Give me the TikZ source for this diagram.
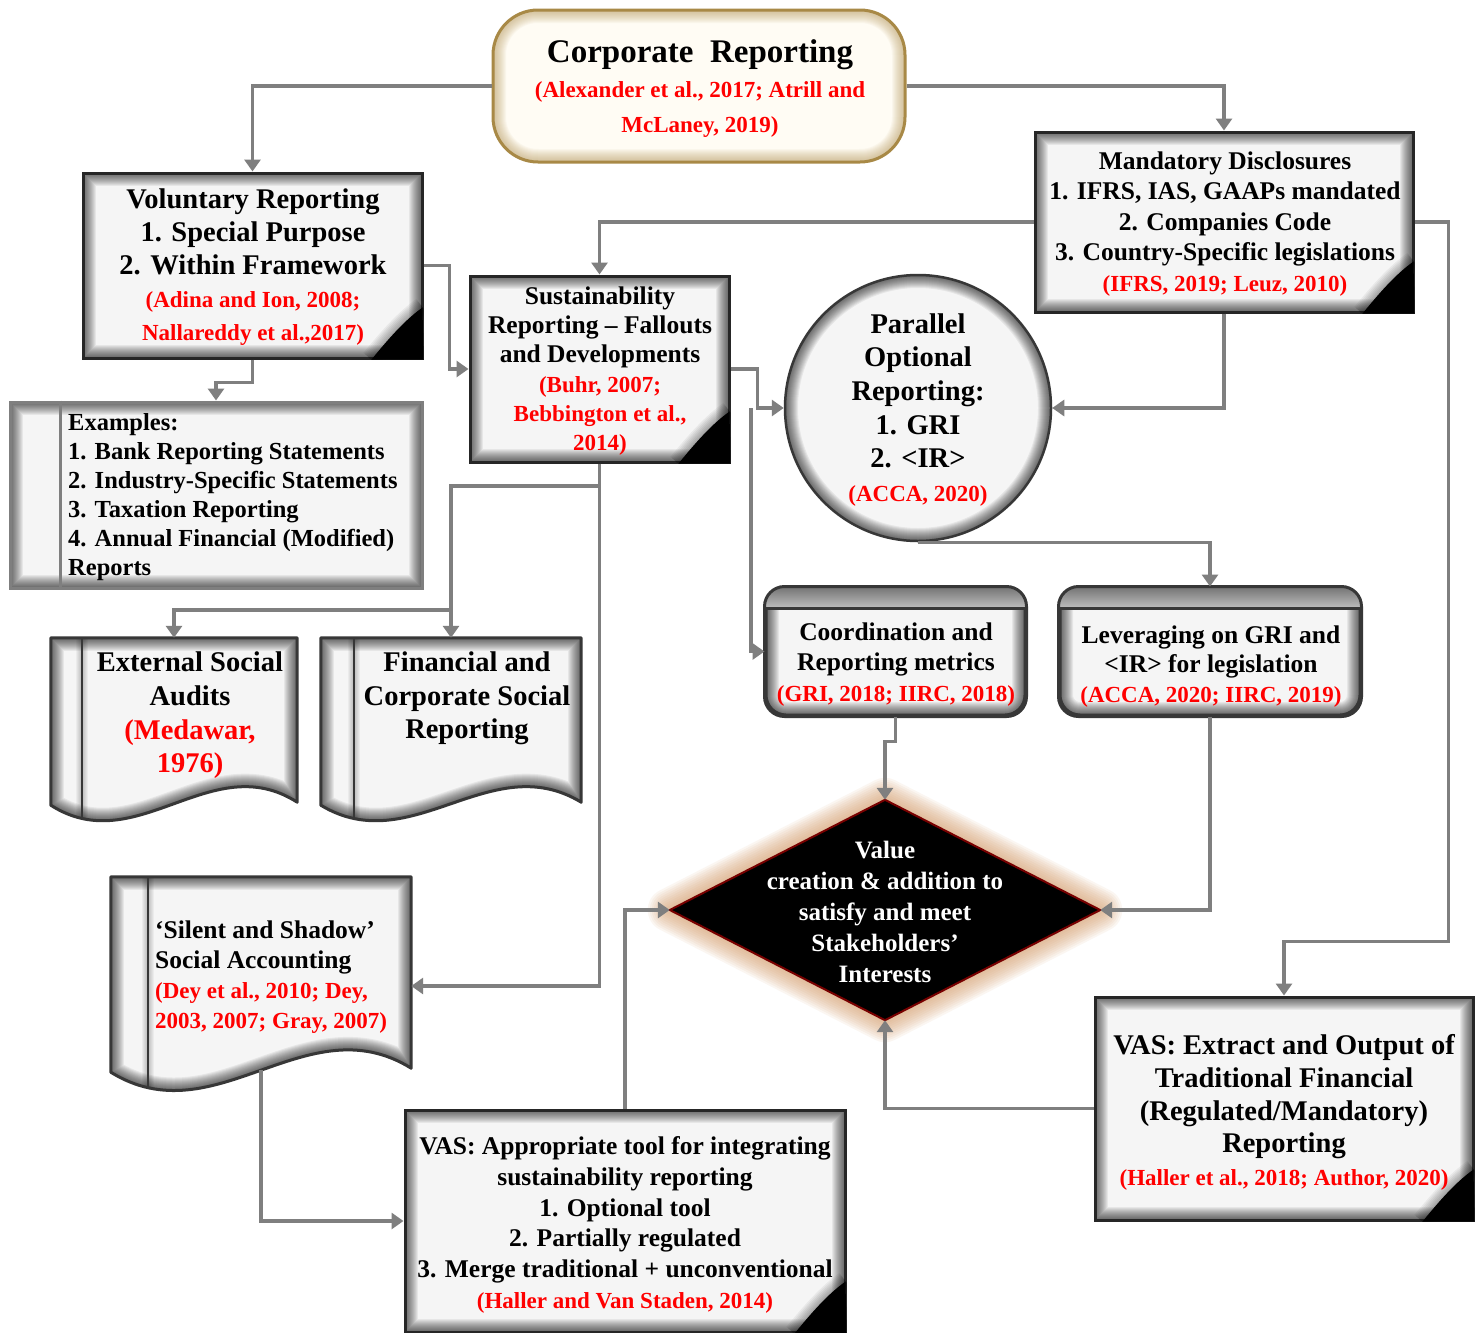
\documentclass[tikz,border=0pt]{standalone}
\usepackage{fontspec}
\setmainfont{Liberation Serif}
\usetikzlibrary{arrows.meta,shapes.geometric,calc}

\definecolor{linegray}{RGB}{127,127,127}
\definecolor{boxfill}{RGB}{245,245,245}
\definecolor{cream}{RGB}{255,252,244}
\definecolor{goldline}{RGB}{168,137,70}
\definecolor{beige}{RGB}{185,155,95}
\definecolor{glowtan}{RGB}{215,160,110}
\definecolor{darkred}{RGB}{120,0,0}
\definecolor{redtxt}{RGB}{255,0,0}
\definecolor{bordergray}{RGB}{55,55,55}

% red citation lines
\newcommand\rd[1]{{\color{redtxt}\fontsize{23}{23}\selectfont #1}}
% stroke widths for the soft inner shadow of the boxes (each stroke is faint, they stack)
\newcommand\glowlist{2,4,...,26}
\newcommand\glowop{0.06}

% outline of a wavy-bottom document: name, control dx, rise right, rise left, amplitude
\newcommand\docpathof[5]{(#1.north west) -- (#1.north east) -- ([yshift=#3pt]#1.south east)
  .. controls ([xshift=-#2pt,yshift=#3pt+#5pt]#1.south east) and ([xshift=#2pt,yshift=#4pt-#5pt]#1.south west)
  .. ([yshift=#4pt]#1.south west) -- cycle}

\newcommand\docshape[6]{%
  \fill[boxfill] \docpathof{#1}{#2}{#3}{#4}{#5};
  \begin{scope}
    \clip \docpathof{#1}{#2}{#3}{#4}{#5};
    \foreach \w in \glowlist {\draw[line width=\w pt, black, opacity=\glowop] \docpathof{#1}{#2}{#3}{#4}{#5};}
    \foreach \w in {2,4,...,12}{\draw[line width=\w pt, black, opacity=0.04] ([xshift=#6pt]#1.north west) -- ([xshift=#6pt,yshift=-40pt]#1.south west);}
    \draw[line width=2.5pt, bordergray] ([xshift=#6pt]#1.north west) -- ([xshift=#6pt,yshift=-40pt]#1.south west);
  \end{scope}
  \draw[line width=3pt, bordergray, line join=round] \docpathof{#1}{#2}{#3}{#4}{#5};
}

% curled corner at the lower right of a box
\newcommand\pagecurl[1]{%
  \begin{scope}
    \clip (#1.south west) rectangle (#1.north east);
    \foreach \w in {3,6,...,21}{
      \draw[line width=\w pt, black, opacity=0.05] ([xshift=-52pt]#1.south east)
        .. controls ([xshift=-34pt,yshift=22pt]#1.south east) and ([xshift=-18pt,yshift=40pt]#1.south east)
        .. ([xshift=-1pt,yshift=52pt]#1.south east);}
    \fill[black] ([xshift=-52pt]#1.south east)
        .. controls ([xshift=-34pt,yshift=22pt]#1.south east) and ([xshift=-18pt,yshift=40pt]#1.south east)
        .. ([xshift=-1pt,yshift=52pt]#1.south east) -- (#1.south east) -- cycle;
  \end{scope}
}

\tikzset{
  rectglow/.style={path picture={\foreach \w in \glowlist {\draw[line width=\w pt,#1,opacity=\glowop] (path picture bounding box.south west) rectangle (path picture bounding box.north east);}}},
  roundglow/.style 2 args={path picture={\foreach \w in \glowlist {\draw[line width=\w pt,#1,opacity=\glowop,rounded corners=#2] (path picture bounding box.south west) rectangle (path picture bounding box.north east);}}},
  circglow/.style={path picture={\foreach \w in \glowlist {\draw[line width=\w pt,#1,opacity=\glowop] (path picture bounding box.center) circle[radius=133pt];}}},
  sqbox/.style={rectangle, draw=black!85, line width=3pt, fill=boxfill, inner sep=0pt, rectglow=black},
  sqgray/.style={rectangle, draw=linegray, line width=3pt, fill=boxfill, inner sep=0pt, rectglow=black},
  rbox/.style={rectangle, rounded corners=20pt, draw=bordergray, line width=3pt, fill=boxfill, inner sep=0pt, roundglow={black}{20pt}},
  corpbox/.style={rectangle, rounded corners=45pt, draw=goldline, line width=3pt, fill=cream, inner sep=0pt, roundglow={beige}{45pt}},
  cbox/.style={circle, draw=bordergray, line width=2.5pt, fill=boxfill, inner sep=0pt, minimum size=266pt, circglow=black},
  geom/.style={rectangle, inner sep=0pt},
  txt/.style={inner sep=0pt, align=center, yshift=-2pt},
  conn/.style={draw=linegray, line width=3.2pt, -{Triangle[width=16pt,length=12pt]}},
}

\begin{document}
\begin{tikzpicture}[x=1pt,y=-1pt]
\fill[white] (0,0) rectangle (1483,1333);
\useasboundingbox (0,0) rectangle (1483,1333);

% ---- boxes ----
\node[corpbox, minimum width=412pt, minimum height=152pt] (corp) at (699,86) {};
\node[sqbox, minimum width=339pt, minimum height=185pt] (vol) at (252.5,265.5) {};
\pagecurl{vol}
\node[sqbox, minimum width=378pt, minimum height=180pt] (mand) at (1224,222) {};
\pagecurl{mand}
\node[sqbox, minimum width=259pt, minimum height=186pt] (sust) at (599.5,369) {};
\pagecurl{sust}
\node[sqgray, minimum width=412pt, minimum height=186pt] (ex) at (216,495) {};
\draw[linegray, line width=2.5pt] ([xshift=52pt]ex.north west) -- ([xshift=52pt]ex.south west);
\node[cbox] (circ) at (918,408) {};

% rounded boxes with a header strip
\foreach \n/\cx/\w in {coord/895.5/259, lev/1210/300}{
  \node[rbox, minimum width=\w pt, minimum height=127pt] (\n) at (\cx,651.5) {};
  \begin{scope}
    \clip[rounded corners=20pt] (\n.south west) rectangle (\n.north east);
    \shade[top color=black!55, bottom color=black!25] (\n.north west) rectangle ([yshift=-22pt]\n.north east);
  \end{scope}
  \draw[bordergray, line width=2.5pt] ([yshift=-22pt]\n.north west) -- ([yshift=-22pt]\n.north east);
  \draw[bordergray, line width=3pt, rounded corners=20pt] (\n.south west) rectangle (\n.north east);
}

% documents with wavy bottoms
\node[geom, minimum width=246pt, minimum height=187pt] (ext) at (174,731.5) {};
\docshape{ext}{86}{23}{20}{55}{31}
\node[geom, minimum width=260pt, minimum height=187pt] (fin) at (451,731.5) {};
\docshape{fin}{91}{23}{20}{55}{33}
\node[geom, minimum width=300pt, minimum height=218pt] (sil) at (261,986) {};
\docshape{sil}{105}{27}{23}{65}{37}

% decision diamond with a warm glow
\node[diamond, minimum width=430pt, minimum height=220pt, inner sep=0pt] (dia) at (885,910) {};
\foreach \w in {4,8,...,44}{
  \draw[glowtan, line width=\w pt, opacity=0.09, line join=round] (dia.north) -- (dia.east) -- (dia.south) -- (dia.west) -- cycle;}
\filldraw[fill=black, draw=darkred, line width=2pt] (dia.north) -- (dia.east) -- (dia.south) -- (dia.west) -- cycle;

\node[sqbox, minimum width=440pt, minimum height=222pt] (vasb) at (625,1221) {};
\pagecurl{vasb}
\node[sqbox, minimum width=378pt, minimum height=223pt] (vasr) at (1284,1108.5) {};
\pagecurl{vasr}

% ---- texts ----
\node[txt, font=\fontsize{33}{35}\selectfont\bfseries] (corpT) at (700,87)
  {Corporate\hspace{0.5em}Reporting\\ \rd{(Alexander et al., 2017; Atrill and}\\ \rd{McLaney, 2019)}};
\node[txt, font=\fontsize{28.5}{33}\selectfont\bfseries] (volT) at (253,265.5)
  {Voluntary Reporting\\ 1. Special Purpose\\ 2. Within Framework\\ \rd{(Adina and Ion, 2008;}\\ \rd{Nallareddy et al.,2017)}};
\node[txt, font=\fontsize{25.5}{30.5}\selectfont\bfseries] (mandT) at (1225,222)
  {Mandatory Disclosures\\ 1. IFRS, IAS, GAAPs mandated\\ 2. Companies Code\\ 3. Country-Specific legislations\\ \rd{(IFRS, 2019; Leuz, 2010)}};
\node[txt, font=\fontsize{25.5}{29.2}\selectfont\bfseries] (sustT) at (600,369)
  {Sustainability\\ Reporting \textendash{} Fallouts\\ and Developments\\ \rd{(Buhr, 2007;}\\ \rd{Bebbington et al.,}\\ \rd{2014)}};
\node[txt, align=left, anchor=west, font=\fontsize{24.5}{29}\selectfont\bfseries] (exT) at (68,495.5)
  {Examples:\\ 1. Bank Reporting Statements\\ 2. Industry-Specific Statements\\ 3. Taxation Reporting\\ 4. Annual Financial (Modified)\\ Reports};
\node[txt, font=\fontsize{28.5}{33.7}\selectfont\bfseries] (circT) at (918,408)
  {Parallel\\ Optional\\ Reporting:\\ 1. GRI\\ 2. <IR>\\ \rd{(ACCA, 2020)}};
\node[txt, font=\fontsize{28.5}{33.7}\selectfont\bfseries] (extT) at (190,713.5)
  {External Social\\ Audits\\ \textcolor{redtxt}{(Medawar,}\\ \textcolor{redtxt}{1976)}};
\node[txt, font=\fontsize{28.5}{33.5}\selectfont\bfseries] (finT) at (467,696.5)
  {Financial and\\ Corporate Social\\ Reporting};
\node[txt, font=\fontsize{25.5}{30.5}\selectfont\bfseries] (coordT) at (896,662.5)
  {Coordination and\\ Reporting metrics\\ \rd{(GRI, 2018; IIRC, 2018)}};
\node[txt, font=\fontsize{25.5}{29.5}\selectfont\bfseries] (levT) at (1211,664.5)
  {Leveraging on GRI and\\ <IR> for legislation\\ \rd{(ACCA, 2020; IIRC, 2019)}};
\node[txt, text=white, font=\fontsize{25}{31}\selectfont\bfseries] (diaT) at (885,910)
  {Value\\ creation \& addition to\\ satisfy and meet\\ Stakeholders’\\ Interests};
\node[txt, align=left, anchor=west, font=\fontsize{25.5}{30}\selectfont\bfseries] (silT) at (155,975)
  {‘Silent and Shadow’\\ Social Accounting\\ \rd{(Dey et al., 2010; Dey,}\\ \rd{2003, 2007; Gray, 2007)}};
\node[txt, font=\fontsize{25.5}{30.8}\selectfont\bfseries] (vasbT) at (625,1223)
  {VAS: Appropriate tool for integrating\\ sustainability reporting\\ 1. Optional tool\\ 2. Partially regulated\\ 3. Merge traditional + unconventional\\ \rd{(Haller and Van Staden, 2014)}};
\node[txt, font=\fontsize{28.5}{32.8}\selectfont\bfseries] (vasrT) at (1284,1110.5)
  {VAS: Extract and Output of\\ Traditional Financial\\ (Regulated/Mandatory)\\ Reporting\\ \rd{(Haller et al., 2018; Author, 2020)}};

% ---- connectors ----
\coordinate (jA) at (751,408);
\coordinate (jB) at (599.5,486);
\coordinate (jC) at (451,610);

\draw[conn] (corp.west) -| (vol.north);
\draw[conn] (corp.east) -| (mand.north);
\draw[conn] (vol.south) -- ++(0,23) -| (ex.north);
\draw[conn] (vol.east) -- ++(26,0) |- (sust.west);
\draw[conn] (mand.west) -| (sust.north);
\draw[conn] (mand.south) |- (circ.east);
\draw[conn] (mand.east) -- ++(34,0) |- ([yshift=54pt]vasr.north) -- (vasr.north);
\draw[conn] (sust.east) -- ++(27,0) |- (circ.west);
\draw[conn] (jA) |- (coord.west);
\draw[conn] (sust.south) |- (sil.east);
\draw[conn] (jB) -| (fin.north);
\draw[conn] (jC) -| (ext.north);
\draw[conn] (circ.south) -| (lev.north);
\draw[conn] (coord.south) -- ++(0,25) -| (dia.north);
\draw[conn] (lev.south) |- (dia.east);
\draw[conn] ([yshift=25pt]sil.south) |- (vasb.west);
\draw[conn] (vasb.north) |- (dia.west);
\draw[conn] (vasr.west) -| (dia.south);
\end{tikzpicture}
\end{document}
